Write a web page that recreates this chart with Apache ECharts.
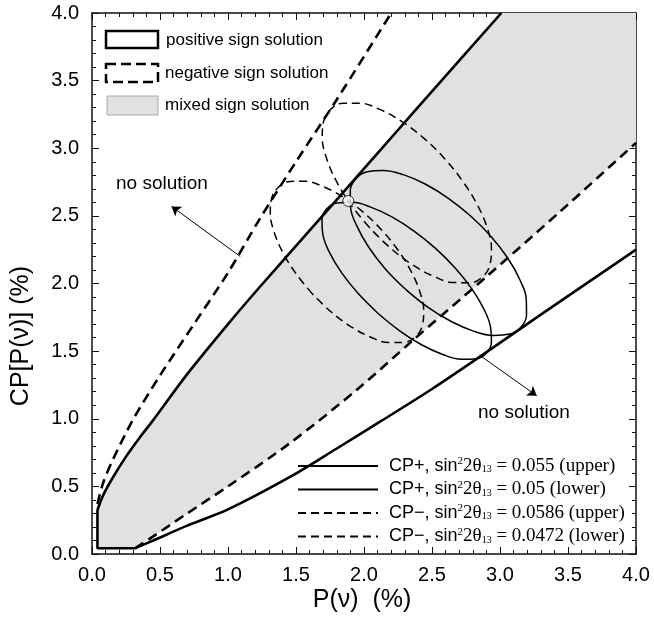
<!DOCTYPE html>
<html><head><meta charset="utf-8">
<script src="https://cdn.jsdelivr.net/npm/echarts@6/dist/echarts.min.js"></script>
<style>html,body{margin:0;padding:0;background:#fff}#c{width:654px;height:622px}</style>
</head><body><div id="c"></div>
<script>
// ---- data ----
const xTickLabels = ['0.0','0.5','1.0','1.5','2.0','2.5','3.0','3.5','4.0'];
const yTickLabels = ['0.0','0.5','1.0','1.5','2.0','2.5','3.0','3.5','4.0'];

// positive sign solution boundaries (solid)
const posUpper = [[0.04,0.325],[0.08,0.43],[0.15,0.56],[0.25,0.72],[0.35,0.86],[0.45,0.99],[0.7,1.33],[1.0,1.70],[1.235,1.976],[1.5,2.278],[2.0,2.849],[2.25,3.135],[2.5,3.42],[3.01,4.0]];
const posLower = [[0.316,0.042],[0.45,0.1],[0.7,0.21],[1.0,0.33],[1.456,0.57],[1.8,0.78],[2.118,0.978],[2.5,1.22],[2.853,1.459],[3.3,1.77],[3.65,2.01],[4.0,2.25]];
const cornerEdge = [[0.316,0.042],[0.04,0.042],[0.04,0.325]];
// negative sign solution boundaries (dashed)
const negUpper = [[0.04,0.37],[0.08,0.52],[0.15,0.69],[0.3,0.99],[0.5,1.32],[0.75,1.7],[1.0,2.08],[1.235,2.48],[1.5,2.9],[1.8,3.36],[2.2,4.0]];
const negLower = [[0.316,0.042],[0.45,0.13],[0.7,0.3],[1.0,0.5],[1.456,0.82],[1.946,1.213],[2.36,1.58],[2.9,2.05],[3.44,2.53],[4.0,3.04]];
const rightEdge = [[4.0,4.0],[4.0,3.04]];

// ellipses (points read around each contour)
const ellCPplusUpper = [[2.306,1.957],[2.157,2.108],[2.035,2.268],[1.948,2.424],[1.901,2.567],[1.899,2.687],[1.941,2.775],[2.024,2.826],[2.142,2.836],[2.289,2.805],[2.453,2.734],[2.623,2.628],[2.788,2.495],[2.937,2.344],[3.059,2.185],[3.146,2.028],[3.193,1.885],[3.195,1.765],[3.154,1.677],[3.071,1.626],[2.952,1.616],[2.805,1.648],[2.642,1.719],[2.471,1.824],[2.306,1.957]];
const ellCPplusLower = [[2.100,1.782],[1.956,1.927],[1.835,2.080],[1.747,2.228],[1.698,2.362],[1.691,2.472],[1.726,2.552],[1.801,2.596],[1.912,2.600],[2.049,2.565],[2.205,2.493],[2.368,2.388],[2.528,2.258],[2.672,2.113],[2.793,1.960],[2.881,1.812],[2.930,1.678],[2.937,1.568],[2.902,1.488],[2.827,1.444],[2.716,1.440],[2.579,1.475],[2.423,1.547],[2.260,1.652],[2.100,1.782]];
const ellCPminusUpper = [[2.037,2.417],[1.902,2.585],[1.795,2.760],[1.724,2.928],[1.693,3.079],[1.704,3.202],[1.757,3.289],[1.848,3.333],[1.970,3.333],[2.116,3.287],[2.276,3.199],[2.439,3.075],[2.593,2.923],[2.727,2.754],[2.834,2.580],[2.906,2.411],[2.937,2.261],[2.926,2.138],[2.873,2.051],[2.782,2.006],[2.659,2.007],[2.513,2.053],[2.353,2.141],[2.191,2.265],[2.037,2.417]];
const ellCPminusLower = [[1.620,1.924],[1.498,2.076],[1.402,2.232],[1.338,2.384],[1.311,2.521],[1.322,2.633],[1.371,2.712],[1.455,2.755],[1.566,2.756],[1.699,2.717],[1.844,2.640],[1.991,2.530],[2.130,2.395],[2.252,2.244],[2.348,2.087],[2.412,1.935],[2.439,1.799],[2.428,1.687],[2.379,1.607],[2.295,1.565],[2.184,1.563],[2.051,1.603],[1.906,1.680],[1.759,1.789],[1.620,1.924]];

const measuredPoint = [[1.885,2.61]];
const arrowUpper = [[1.09,2.2],[0.585,2.57]];
const arrowLower = [[2.85,1.47],[3.27,1.17]];

const legendNames = ['CP+, 0.055 (upper)','CP+, 0.05 (lower)','CP−, 0.0586 (upper)','CP−, 0.0472 (lower)'];
const legendSign = ['+','+','−','−'];
const legendValue = ['0.055','0.05','0.0586','0.0472'];
const legendWhich = ['upper','lower','upper','lower'];

const topLegendText = ['positive sign solution','negative sign solution','mixed sign solution'];
const noSolution = 'no solution';
const xName = 'P(ν)  (%)';
const yName = 'CP[P(ν)] (%)';

// ---- chart ----
const SANS = 'Liberation Sans, Arial, Helvetica, sans-serif';
const SERIF = 'Liberation Serif, Times New Roman, serif';
const mixedPoly = posUpper.concat(rightEdge, negLower.slice().reverse(), [[0.04,0.042]]);

const chart = echarts.init(document.getElementById('c'), null, {renderer:'canvas'});
const axisCommon = {
  type:'value', min:0, max:4, interval:0.5,
  axisLine:{show:true, onZero:false, lineStyle:{color:'#111', width:1.5}},
  axisTick:{show:true, inside:true, length:7, lineStyle:{color:'#111', width:1}},
  minorTick:{show:true, splitNumber:5, length:4, lineStyle:{color:'#111', width:1}},
  splitLine:{show:false}, minorSplitLine:{show:false}
};
function lbl(arr){ return function(v){ const i = Math.round(v/0.5); return arr[i] !== undefined ? arr[i] : ''; }; }

const thick = 2.6, thin = 1.5;
function lineSeries(name, data, dashed, width, smooth){
  return {type:'line', name:name, data:data, smooth:smooth, symbol:'none', silent:true,
    itemStyle:{color:'#000', opacity:0},
    lineStyle:{color:'#000', width:width, type: dashed ? dashed : 'solid'}, z:3, clip:true};
}
const series = [
  {type:'custom', name:'mixed', data:mixedPoly, silent:true, z:1, clip:true,
   renderItem:function(params, api){
     if (params.dataIndex !== 0) return null;
     const pts = mixedPoly.map(p => api.coord(p));
     return {type:'polygon', shape:{points:pts}, style:{fill:'#e1e1e1', stroke:null}};
   }},
  lineSeries('posUpper', posUpper, null, thick, 0.3),
  lineSeries('posLower', posLower, null, thick, 0.3),
  lineSeries('corner', cornerEdge, null, thick, false),
  lineSeries('negUpper', negUpper, [10,6], thick, 0.3),
  lineSeries('negLower', negLower, [10,6], thick, 0.3),
  lineSeries(legendNames[0], ellCPplusUpper, null, thin, 0.4),
  lineSeries(legendNames[1], ellCPplusLower, null, thin, 0.4),
  lineSeries(legendNames[2], ellCPminusUpper, [8,5], thin, 0.4),
  lineSeries(legendNames[3], ellCPminusLower, [8,5], thin, 0.4),
  {type:'scatter', name:'point', data:measuredPoint, symbol:'circle', symbolSize:11, z:10, silent:true,
   itemStyle:{color:'#fff', borderColor:'#000', borderWidth:1}},
  {type:'lines', coordinateSystem:'cartesian2d', polyline:false, z:6, silent:true,
   symbol:['none','arrow'], symbolSize:[0,9],
   lineStyle:{color:'#000', width:1, opacity:1},
   data:[{coords:arrowUpper},{coords:arrowLower}]}
];

const rich = {
  s:{fontFamily:SANS, fontSize:18, color:'#000', lineHeight:22, padding:[0,0,0,6]},
  sup:{fontFamily:SERIF, fontSize:11, color:'#000', lineHeight:22, padding:[0,0,9,0]},
  t:{fontFamily:SERIF, fontSize:19, color:'#000', lineHeight:22},
  sub:{fontFamily:SERIF, fontSize:10, color:'#000', lineHeight:22, padding:[7,0,0,0]}
};

const option = {
  animation:false,
  backgroundColor:'#fff',
  grid:{left:92, right:18, top:13, bottom:68, containLabel:false},
  xAxis:[
    Object.assign({}, axisCommon, {position:'bottom', axisLabel:{show:true, color:'#000', fontSize:20, fontFamily:SANS, margin:11, formatter:lbl(xTickLabels)}}),
    Object.assign({}, axisCommon, {position:'top', axisLabel:{show:false}})
  ],
  yAxis:[
    Object.assign({}, axisCommon, {position:'left', axisLabel:{show:true, color:'#000', fontSize:20, fontFamily:SANS, margin:13, formatter:lbl(yTickLabels)}}),
    Object.assign({}, axisCommon, {position:'right', axisLabel:{show:false}})
  ],
  legend:{
    data:legendNames, orient:'vertical', left:297, top:456, padding:0, itemWidth:80, itemHeight:12, itemGap:3.5,
    selectedMode:false,
    formatter:function(name){ const i = legendNames.indexOf(name);
      return '{s|CP' + legendSign[i] + ', sin}{sup|2}{t|2θ}{sub|13}{t| = ' + legendValue[i] + ' (' + legendWhich[i] + ')}'; },
    textStyle:{rich:rich, color:'#000'}
  },
  graphic:[
    {type:'rect', shape:{x:106,y:31,width:52,height:17}, style:{fill:'#fff', stroke:'#000', lineWidth:2.5}, z:100},
    {type:'rect', shape:{x:106,y:64,width:52,height:18}, style:{fill:'#fff', stroke:'#000', lineWidth:2.5, lineDash:[10,5]}, z:100},
    {type:'rect', shape:{x:107,y:96,width:51,height:19}, style:{fill:'#e1e1e1', stroke:'#aaa', lineWidth:1}, z:100},
    {type:'text', x:166, y:40, style:{text:topLegendText[0], font:'17px '+SANS, fill:'#000', verticalAlign:'middle'}, z:100},
    {type:'text', x:165, y:73, style:{text:topLegendText[1], font:'17px '+SANS, fill:'#000', verticalAlign:'middle'}, z:100},
    {type:'text', x:165, y:105, style:{text:topLegendText[2], font:'17px '+SANS, fill:'#000', verticalAlign:'middle'}, z:100},
    {type:'text', x:116, y:184, style:{text:noSolution, font:'19px '+SANS, fill:'#000', verticalAlign:'middle'}, z:100},
    {type:'text', x:478, y:413, style:{text:noSolution, font:'19px '+SANS, fill:'#000', verticalAlign:'middle'}, z:100},
    {type:'text', x:362, y:600, style:{text:xName, font:'25px '+SANS, fill:'#000', align:'center', verticalAlign:'middle'}, z:100},
    {type:'text', x:21, y:336, rotation:Math.PI/2, style:{text:yName, font:'25px '+SANS, fill:'#000', align:'center', verticalAlign:'middle'}, z:100}
  ],
  series:series
};
chart.setOption(option);
</script>
</body></html>
